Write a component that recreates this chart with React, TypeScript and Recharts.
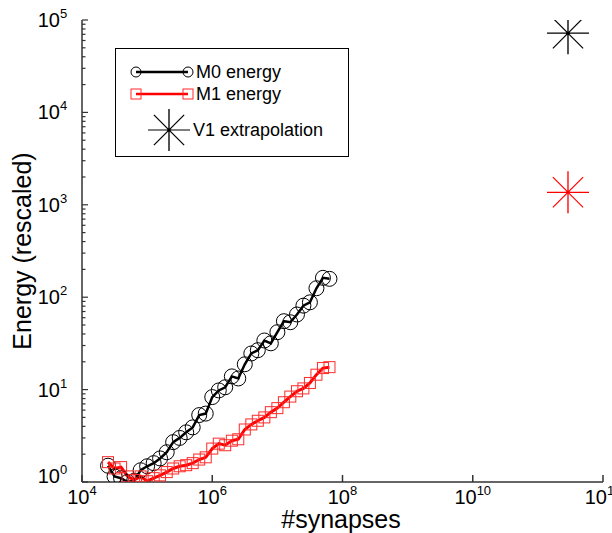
import { ComposedChart, Line, Scatter, XAxis, YAxis } from 'recharts';

// synapse counts (shared by both model curves)
const synapses = [
  25100, 31600, 39800, 50100, 63100, 79400, 100000, 126000, 158000, 200000,
  251000, 316000, 398000, 501000, 631000, 794000, 1000000, 1260000, 1580000, 2000000,
  2510000, 3160000, 3980000, 5010000, 6310000, 7940000, 10000000, 12600000, 15800000, 20000000,
  25100000, 31600000, 39800000, 50100000, 63100000,
];

const m0Energy = [
  1.5, 1.15, 1.1, 1.0, 1.03, 1.34, 1.48, 1.6, 1.8, 2.1,
  2.7, 3.0, 3.45, 3.9, 5.3, 5.5, 8.3, 9.8, 10.6, 13.9,
  13.2, 18.8, 24.6, 26.7, 34, 31.7, 41.8, 55, 53.6, 65,
  81, 88, 125, 162, 158,
];

const m1Energy = [
  1.64, 1.4, 1.45, 1.15, 1.05, 1.15, 1.02, 1.1, 1.18, 1.28,
  1.4, 1.48, 1.52, 1.6, 1.75, 1.85, 2.3, 2.6, 2.5, 2.8,
  2.9, 3.7, 4.2, 4.6, 5.0, 5.7, 6.3, 7.3, 8.4, 9.6,
  10.3, 11.8, 14.5, 17.1, 17.5,
];

// V1 extrapolation (M0, M1)
const v1Synapses = [2.9e11, 2.9e11];
const v1Energy = [72000, 1365];
const v1Colors = ['#000000', '#ff0000'];

const xTicks = [1e4, 1e6, 1e8, 1e10, 1e12];
const yMajor = [1, 10, 100, 1000, 10000, 100000];
const yTicks = [
  1, 2, 3, 4, 5, 6, 7, 8, 9,
  10, 20, 30, 40, 50, 60, 70, 80, 90,
  100, 200, 300, 400, 500, 600, 700, 800, 900,
  1000, 2000, 3000, 4000, 5000, 6000, 7000, 8000, 9000,
  10000, 20000, 30000, 40000, 50000, 60000, 70000, 80000, 90000,
  100000,
];

const FONT = '"Liberation Sans", Arial, Helvetica, sans-serif';
const AXIS = '#333';

const m0Data = synapses.map((x, i) => ({ x, y: m0Energy[i] }));
const m1Data = synapses.map((x, i) => ({ x, y: m1Energy[i] }));
const v1Data = v1Synapses.map((x, i) => ({ x, y: v1Energy[i], color: v1Colors[i] }));

const exponent = (v: number) => Math.round(Math.log10(v));

function XTick({ x, y, payload }: any) {
  return (
    <g>
      <line x1={x} x2={x} y1={y} y2={y - 7} stroke={AXIS} strokeWidth={1.5} />
      <text x={x} y={y + 22} textAnchor="middle" fontFamily={FONT} fontSize={20} fill="#000">
        <tspan>10</tspan>
        <tspan dy={-9} fontSize={13}>{exponent(payload.value)}</tspan>
      </text>
    </g>
  );
}

function YTick({ x, y, payload }: any) {
  const v = payload.value;
  const major = yMajor.includes(v);
  const shift = v === 1 ? -6 : 0;
  return (
    <g>
      <line x1={x} x2={x + (major ? 6 : 3.5)} y1={y} y2={y} stroke={AXIS} strokeWidth={1.2} />
      {major && (
        <text x={x - 22} y={y + 7 + shift} textAnchor="end" fontFamily={FONT} fontSize={20} fill="#000">
          10
        </text>
      )}
      {major && (
        <text x={x - 22} y={y - 2 + shift} textAnchor="start" fontFamily={FONT} fontSize={13} fill="#000">
          {exponent(v)}
        </text>
      )}
    </g>
  );
}

function Star({ cx, cy, color, r = 21 }: { cx: number; cy: number; color: string; r?: number }) {
  const d = r * 0.72;
  return (
    <g stroke={color}>
      <line x1={cx - r} x2={cx + r} y1={cy} y2={cy} strokeWidth={1.2} />
      <line x1={cx} x2={cx} y1={cy - r} y2={cy + r} strokeWidth={1.8} strokeOpacity={0.75} />
      <line x1={cx - d} x2={cx + d} y1={cy - d} y2={cy + d} strokeWidth={1.2} />
      <line x1={cx - d} x2={cx + d} y1={cy + d} y2={cy - d} strokeWidth={1.2} />
      <circle cx={cx} cy={cy} r={1.8} fill={color} stroke="none" />
    </g>
  );
}

function CircleDot(p: any) {
  return <circle key={`c${p.index}`} cx={p.cx} cy={p.cy} r={7.5} fill="none" stroke="#000" strokeWidth={1} />;
}

function SquareDot(p: any) {
  return (
    <rect key={`s${p.index}`} x={p.cx - 5.5} y={p.cy - 5.5} width={11} height={11} fill="none" stroke="#ff2a2a" strokeWidth={1} />
  );
}

function LegendBox() {
  return (
    <div
      style={{
        position: 'absolute',
        left: 115,
        top: 48,
        width: 232,
        height: 107,
        border: '1px solid #000',
        background: '#fff',
      }}
    >
      <svg width={232} height={107} style={{ position: 'absolute', left: 0, top: 0 }}>
        <line x1={20} x2={72} y1={23} y2={23} stroke="#000" strokeWidth={2.5} />
        <circle cx={20} cy={23} r={5} fill="none" stroke="#000" />
        <circle cx={72} cy={23} r={5} fill="none" stroke="#000" />
        <line x1={20} x2={72} y1={45} y2={45} stroke="#ff0000" strokeWidth={2.5} />
        <rect x={15} y={40} width={10} height={10} fill="none" stroke="#ff2a2a" />
        <rect x={67} y={40} width={10} height={10} fill="none" stroke="#ff2a2a" />
        <Star cx={53} cy={81} color="#000" />
        <text x={80} y={29} fontFamily={FONT} fontSize={18}>M0 energy</text>
        <text x={80} y={51} fontFamily={FONT} fontSize={18}>M1 energy</text>
        <text x={77} y={87} fontFamily={FONT} fontSize={18}>V1 extrapolation</text>
      </svg>
    </div>
  );
}

export default function App() {
  return (
    <div style={{ position: 'absolute', left: 0, top: 0, width: 612, height: 533, background: '#fff', overflow: 'hidden' }}>
      <ComposedChart width={612} height={533} margin={{ top: 20, right: 9, bottom: 0, left: 0 }}>
        <XAxis
          type="number"
          dataKey="x"
          scale="log"
          domain={[1e4, 1e12]}
          ticks={xTicks}
          interval={0}
          allowDataOverflow
          height={51}
          tickSize={0}
          tickMargin={0}
          tickLine={false}
          stroke={AXIS}
          strokeWidth={1.5}
          tick={<XTick />}
        />
        <YAxis
          type="number"
          dataKey="y"
          scale="log"
          domain={[1, 1e5]}
          ticks={yTicks}
          interval={0}
          allowDataOverflow
          width={82}
          tickSize={0}
          tickMargin={0}
          tickLine={false}
          stroke={AXIS}
          strokeWidth={1.5}
          tick={<YTick />}
        />
        <Line
          data={m0Data}
          dataKey="y"
          type="linear"
          stroke="#000"
          strokeWidth={2.5}
          dot={CircleDot}
          isAnimationActive={false}
        />
        <Line
          data={m1Data}
          dataKey="y"
          type="linear"
          stroke="#ff0000"
          strokeWidth={3}
          dot={SquareDot}
          isAnimationActive={false}
        />
        <Scatter
          data={v1Data}
          dataKey="y"
          isAnimationActive={false}
          shape={(p: any) => <Star cx={p.cx} cy={p.cy} color={p.payload.color} />}
        />
      </ComposedChart>
      <LegendBox />
      <div
        style={{
          position: 'absolute',
          left: 341,
          top: 509,
          transform: 'translateX(-50%)',
          fontFamily: FONT,
          fontSize: 25,
          lineHeight: '20px',
          whiteSpace: 'nowrap',
        }}
      >
        #synapses
      </div>
      <div
        style={{
          position: 'absolute',
          left: 22,
          top: 251,
          transform: 'translate(-50%, -50%) rotate(-90deg)',
          fontFamily: FONT,
          fontSize: 25,
          whiteSpace: 'nowrap',
        }}
      >
        Energy (rescaled)
      </div>
    </div>
  );
}
